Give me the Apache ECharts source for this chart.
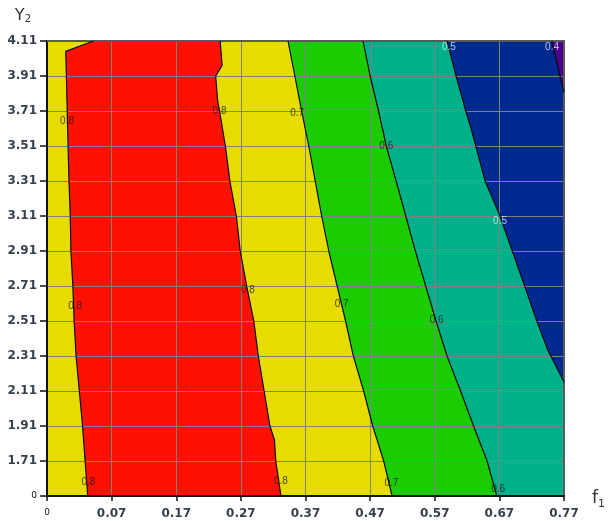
<!DOCTYPE html>
<html>
<head>
<meta charset="utf-8">
<script src="https://cdn.jsdelivr.net/npm/echarts@6/dist/echarts.min.js"></script>
<style>html,body{margin:0;padding:0;background:#fff}#c{width:608px;height:521px}</style>
</head>
<body>
<div id="c"></div>
<script>
// Axis ticks (first tick is shown as "0" in the original)
const xTickLabels = ['0','0.07','0.17','0.27','0.37','0.47','0.57','0.67','0.77'];
const yTickLabels = ['0','1.71','1.91','2.11','2.31','2.51','2.71','2.91','3.11','3.31','3.51','3.71','3.91','4.11'];
const xMin = -0.03, xMax = 0.77, xStep = 0.1;
const yMin = 1.51, yMax = 4.11, yStep = 0.2;

// Contour lines [f1, Y2]
const contour08Left = [[0.042,4.11],[-0.001,4.051],[0.000,3.91],[0.002,3.60],[0.004,3.31],[0.006,3.11],[0.007,2.91],[0.010,2.71],[0.012,2.51],[0.015,2.31],[0.020,2.11],[0.025,1.91],[0.029,1.71],[0.033,1.51]];
const contour08Right = [[0.238,4.11],[0.241,3.971],[0.231,3.91],[0.234,3.771],[0.237,3.71],[0.246,3.51],[0.253,3.31],[0.263,3.11],[0.269,2.91],[0.279,2.71],[0.290,2.51],[0.297,2.31],[0.306,2.11],[0.315,1.91],[0.322,1.83],[0.324,1.71],[0.332,1.51]];
const contour07 = [[0.343,4.11],[0.364,3.71],[0.375,3.51],[0.385,3.31],[0.395,3.11],[0.406,2.91],[0.419,2.71],[0.432,2.51],[0.444,2.31],[0.460,2.11],[0.474,1.91],[0.491,1.71],[0.504,1.51]];
const contour06 = [[0.459,4.11],[0.470,3.91],[0.483,3.71],[0.495,3.51],[0.517,3.22],[0.540,2.91],[0.556,2.71],[0.572,2.51],[0.589,2.31],[0.610,2.11],[0.630,1.91],[0.651,1.71],[0.666,1.51]];
const contour05 = [[0.589,4.11],[0.603,3.91],[0.618,3.71],[0.627,3.60],[0.648,3.31],[0.671,3.11],[0.690,2.91],[0.709,2.71],[0.728,2.51],[0.745,2.343],[0.77,2.161]];
const contour04 = [[0.751,4.11],[0.77,3.815]];

// Contour labels [f1, Y2, text]
const darkLabels = [
  [0.001,3.651,'0.8'],[0.237,3.71,'0.8'],[0.357,3.697,'0.7'],[0.495,3.509,'0.6'],
  [0.281,2.685,'0.8'],[0.426,2.603,'0.7'],[0.573,2.512,'0.6'],[0.0135,2.594,'0.8'],
  [0.034,1.589,'0.8'],[0.332,1.596,'0.8'],[0.503,1.581,'0.7'],[0.668,1.55,'0.6']
];
const lightLabels = [[0.592,4.076,'0.5'],[0.7515,4.076,'0.4'],[0.671,3.08,'0.5']];

const bandColors = {
  base: '#E6DC00', red: '#FF1000', green: '#1ACC00', teal: '#00B08A', blue: '#002A90', purple: '#4B008C'
};

const TR = [xMax, yMax], BR = [xMax, yMin];
const fills = [
  { color: bandColors.base, pts: [[xMin,yMin],[xMax,yMin],[xMax,yMax],[xMin,yMax]] },
  { color: bandColors.red, pts: contour08Left.concat(contour08Right.slice().reverse()) },
  { color: bandColors.green, pts: contour07.concat([BR, TR]) },
  { color: bandColors.teal, pts: contour06.concat([BR, TR]) },
  { color: bandColors.blue, pts: contour05.concat([TR]) },
  { color: bandColors.purple, pts: contour04.concat([TR]) }
];

const chart = echarts.init(document.getElementById('c'), null, {renderer: 'canvas'});
const labelFont = 'DejaVu Sans';
function xFmt(v){ const i = Math.round((v - xMin) / xStep); return i === 0 ? '{z|' + xTickLabels[0] + '}' : (xTickLabels[i] || ''); }
function yFmt(v){ const i = Math.round((v - yMin) / yStep); return i === 0 ? '{z|' + yTickLabels[0] + '}' : (yTickLabels[i] || ''); }

const lineSeries = [contour08Left, contour08Right, contour07, contour06, contour05, contour04].map(c => ({
  type: 'line', data: c, showSymbol: false, symbol: 'none', z: 6, silent: true,
  lineStyle: { color: '#0a0a0a', width: 1.2 }, animation: false
}));

chart.setOption({
  backgroundColor: '#fff',
  animation: false,
  grid: { left: 47, right: 44, top: 41, bottom: 25 },
  xAxis: [{
    type: 'value', min: xMin, max: xMax, interval: xStep, position: 'bottom', z: 5,
    name: 'f{s|1}', nameLocation: 'end', nameGap: 28,
    nameTextStyle: { fontSize: 17, color: '#333', fontFamily: labelFont, padding: [6,0,0,0],
      rich: { s: { fontSize: 11, color: '#333', fontFamily: labelFont, padding: [10,0,0,0] } } },
    axisLine: { show: true, onZero: false, lineStyle: { color: '#111', width: 2 } },
    axisTick: { show: true, length: 5, lineStyle: { color: '#111', width: 1.5 } },
    axisLabel: { margin: 12, fontSize: 12, fontWeight: 'bold', color: '#36404c', fontFamily: labelFont,
      formatter: xFmt, rich: { z: { fontSize: 9, fontWeight: 'normal', color: '#111', padding: [0,0,4,0] } } },
    splitLine: { show: true, lineStyle: { color: '#808080', width: 1 } }
  }, {
    type: 'value', min: xMin, max: xMax, interval: xStep, position: 'top', z: 5,
    axisLine: { show: true, onZero: false, lineStyle: { color: '#5a5a5a', width: 2 } },
    axisTick: { show: false }, axisLabel: { show: false }, splitLine: { show: false }
  }],
  yAxis: [{
    type: 'value', min: yMin, max: yMax, interval: yStep, position: 'left', z: 5,
    name: 'Y{s|2}', nameLocation: 'end', nameGap: 17,
    nameTextStyle: { fontSize: 16, color: '#333', fontFamily: labelFont, align: 'right', padding: [0,16,0,0],
      rich: { s: { fontSize: 10, color: '#333', fontFamily: labelFont, padding: [6,0,0,0] } } },
    axisLine: { show: true, onZero: false, lineStyle: { color: '#111', width: 2 } },
    axisTick: { show: true, length: 7, lineStyle: { color: '#111', width: 1.5 } },
    axisLabel: { margin: 10, fontSize: 12, fontWeight: 'bold', color: '#36404c', fontFamily: labelFont,
      formatter: yFmt, rich: { z: { fontSize: 9, fontWeight: 'normal', color: '#111' } } },
    splitLine: { show: true, lineStyle: { color: '#808080', width: 1 } }
  }, {
    type: 'value', min: yMin, max: yMax, interval: yStep, position: 'right', z: 5,
    axisLine: { show: true, onZero: false, lineStyle: { color: '#5a5a5a', width: 2 } },
    axisTick: { show: false }, axisLabel: { show: false }, splitLine: { show: false }
  }],
  series: [{
    type: 'custom', z: 1, silent: true,
    data: fills.map((f, i) => ({ value: [f.pts[0][0], f.pts[0][1], i] })),
    encode: { x: 0, y: 1 },
    renderItem: function (params, api) {
      const f = fills[api.value(2)];
      return { type: 'polygon', shape: { points: f.pts.map(p => api.coord(p)) },
        style: { fill: f.color, stroke: null } };
    }
  }].concat(lineSeries).concat([{
    type: 'scatter', z: 7, silent: true, symbolSize: 0, data: darkLabels,
    label: { show: true, position: 'inside', formatter: p => p.value[2], fontSize: 10, color: '#1a1a1a', fontFamily: 'Liberation Sans' }
  }, {
    type: 'scatter', z: 7, silent: true, symbolSize: 0, data: lightLabels,
    label: { show: true, position: 'inside', formatter: p => p.value[2], fontSize: 10, color: '#e4ecff', fontFamily: 'Liberation Sans' }
  }])
});
</script>
</body>
</html>
